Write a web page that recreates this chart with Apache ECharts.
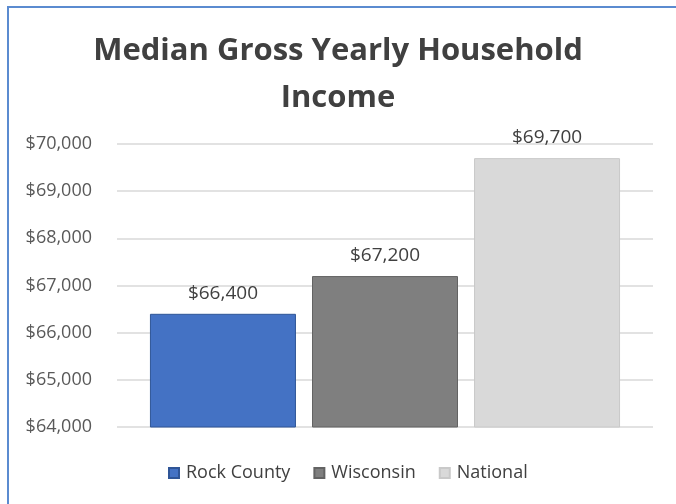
<!DOCTYPE html>
<html><head><meta charset="utf-8">
<script src="https://cdn.jsdelivr.net/npm/echarts@6/dist/echarts.min.js"></script>
<style>
html,body{margin:0;padding:0;background:#fff;}
#frame{position:absolute;left:0;top:0;width:676px;height:504px;background:#fff;}
#frame:before{content:'';position:absolute;left:7px;top:6px;right:0;height:2px;background:#5B8BD0;}
#frame:after{content:'';position:absolute;left:7px;top:6px;bottom:0;width:2px;background:#5B8BD0;}
#c{position:absolute;left:0;top:0;width:676px;height:504px;}
</style></head>
<body><div id="frame"><div id="c"></div></div>
<script>
const titleText = 'Median Gross Yearly Household\nIncome';
const categories = ['Rock County', 'Wisconsin', 'National'];
const values = [66400, 67200, 69700];
const colors = ['#4472C4', '#7F7F7F', '#D9D9D9'];
const borders = ['#2F5597', '#636363', '#C9C9C9'];
const yMin = 64000, yMax = 70000, yStep = 1000;

const font = '"Open Sans", "Noto Sans", sans-serif';
const chart = echarts.init(document.getElementById('c'));
const series = categories.map((name, i) => ({
  name: name,
  type: 'bar',
  barWidth: 146,
  barGap: '11%',
  data: [values[i]],
  itemStyle: { color: colors[i], borderColor: borders[i], borderWidth: 1 },
  label: {
    show: true, position: 'top', distance: 11,
    formatter: p => '$' + p.value.toLocaleString('en-US'),
    color: '#404040', fontSize: 19, fontFamily: font
  }
}));
chart.setOption({
  animation: false,
  title: {
    text: titleText, left: 'center', top: 23,
    textStyle: { fontSize: 31, fontWeight: 'bold', color: '#404040', fontFamily: font, lineHeight: 47 }
  },
  legend: {
    bottom: 17, left: 163, itemWidth: 10, itemHeight: 10, itemGap: 23,
    icon: 'rect',
    textStyle: { fontSize: 18, color: '#404040', fontFamily: font, padding: [0, 0, 0, 2] }
  },
  grid: { left: 117, right: 23, top: 144, bottom: 77 },
  xAxis: {
    type: 'category', data: [''],
    axisLine: { show: false }, axisTick: { show: false }, axisLabel: { show: false }
  },
  yAxis: {
    type: 'value', min: yMin, max: yMax, interval: yStep,
    axisLine: { show: false }, axisTick: { show: false },
    axisLabel: {
      formatter: v => '$' + v.toLocaleString('en-US'),
      color: '#595959', fontSize: 18, fontFamily: font, margin: 25
    },
    splitLine: { lineStyle: { color: '#D9D9D9', width: 1.5 } }
  },
  series: series
});
</script></body></html>
